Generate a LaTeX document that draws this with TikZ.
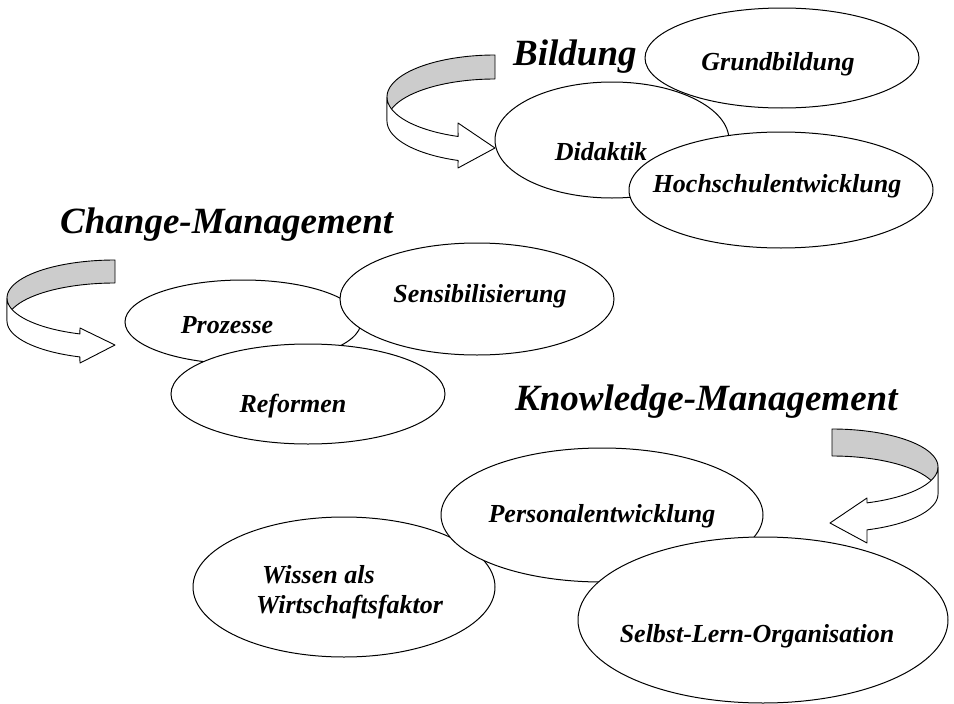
\documentclass[tikz,border=0pt]{standalone}
\usepackage{fontspec}
\setmainfont{Liberation Serif}
\usetikzlibrary{shapes.geometric}
\definecolor{ribbongray}{RGB}{204,204,204}
\tikzset{
  bubble/.style={ellipse, draw, fill=white, line width=1pt, inner sep=0pt},
  lab/.style={font=\fontsize{26}{31}\selectfont\bfseries\itshape, inner sep=0pt, anchor=base},
  ttl/.style={font=\fontsize{37}{44}\selectfont\bfseries\itshape, inner sep=0pt, anchor=base west},
  ribbon/.style={line width=0.9pt, line join=round},
}
\begin{document}
\begin{tikzpicture}[x=1pt,y=-1pt]
\useasboundingbox (0,0) rectangle (954,704);

% --- curved arrow (Bildung)
\filldraw[ribbon, fill=ribbongray]
  plot[domain=270:180, samples=40] ({495+108*cos(\x)},{97+42*sin(\x)})
  -- plot[domain=180:270, samples=40] ({495+108*cos(\x)},{121+42*sin(\x)}) -- cycle;
\filldraw[ribbon, fill=white]
  plot[domain=180:110, samples=30] ({495+108*cos(\x)},{97+42*sin(\x)})
  -- (458,123) -- (495,148) -- (458,168)
  -- plot[domain=110:180, samples=30] ({495+108*cos(\x)},{121+42*sin(\x)}) -- cycle;

% --- curved arrow (Change-Management)
\filldraw[ribbon, fill=ribbongray]
  plot[domain=270:180, samples=40] ({115+108*cos(\x)},{298+38*sin(\x)})
  -- plot[domain=180:270, samples=40] ({115+108*cos(\x)},{321+38*sin(\x)}) -- cycle;
\filldraw[ribbon, fill=white]
  plot[domain=180:109, samples=30] ({115+108*cos(\x)},{298+38*sin(\x)})
  -- (80,328) -- (115,345) -- (80,363)
  -- plot[domain=109:180, samples=30] ({115+108*cos(\x)},{321+38*sin(\x)}) -- cycle;

% --- curved arrow (Knowledge-Management)
\filldraw[ribbon, fill=ribbongray]
  plot[domain=270:360, samples=40] ({832+106*cos(\x)},{467+38*sin(\x)})
  -- plot[domain=360:270, samples=40] ({832+106*cos(\x)},{494+38*sin(\x)}) -- cycle;
\filldraw[ribbon, fill=white]
  plot[domain=0:70.7, samples=30] ({832+106*cos(\x)},{467+38*sin(\x)})
  -- (867,498) -- (830,523) -- (867,543)
  -- plot[domain=70.7:0, samples=30] ({832+106*cos(\x)},{494+38*sin(\x)}) -- cycle;

% --- ellipses
\node[bubble, minimum width=234pt, minimum height=116pt] (didak) at (612,140) {};
\node[bubble, minimum width=274pt, minimum height=100pt] (grund) at (782,58) {};
\node[bubble, minimum width=304pt, minimum height=116pt] (hoch) at (781,190) {};

\node[bubble, minimum width=236pt, minimum height=84pt] (proz) at (243,322) {};
\node[bubble, minimum width=274pt, minimum height=112pt] (sens) at (477,299) {};
\node[bubble, minimum width=274pt, minimum height=100pt] (refo) at (308,394) {};

\node[bubble, minimum width=302pt, minimum height=140pt] (wiss) at (344,587) {};
\node[bubble, minimum width=322pt, minimum height=134pt] (pers) at (602,515) {};
\node[bubble, minimum width=370pt, minimum height=166pt] (selb) at (763,620) {};

% --- titles
\node[ttl] (t1) at (513,65) {Bildung};
\node[ttl] (t2) at (60,233) {Change-Management};
\node[ttl] (t3) at (515,410) {Knowledge-Management};

% --- labels
\node[lab] (l1) at (778,70) {Grundbildung};
\node[lab] (l2) at (601,160) {Didaktik};
\node[lab] (l3) at (777,192) {Hochschulentwicklung};
\node[lab] (l4) at (227,333) {Prozesse};
\node[lab] (l5) at (480,302) {Sensibilisierung};
\node[lab] (l6) at (293,412) {Reformen};
\node[lab] (l7) at (602,522) {Personalentwicklung};
\node[lab, anchor=base west, align=left] (l8) at (256,613) {\hspace{6pt}Wissen als\\[-1pt]Wirtschaftsfaktor};
\node[lab] (l9) at (757,642) {Selbst-Lern-Organisation};
\end{tikzpicture}
\end{document}
